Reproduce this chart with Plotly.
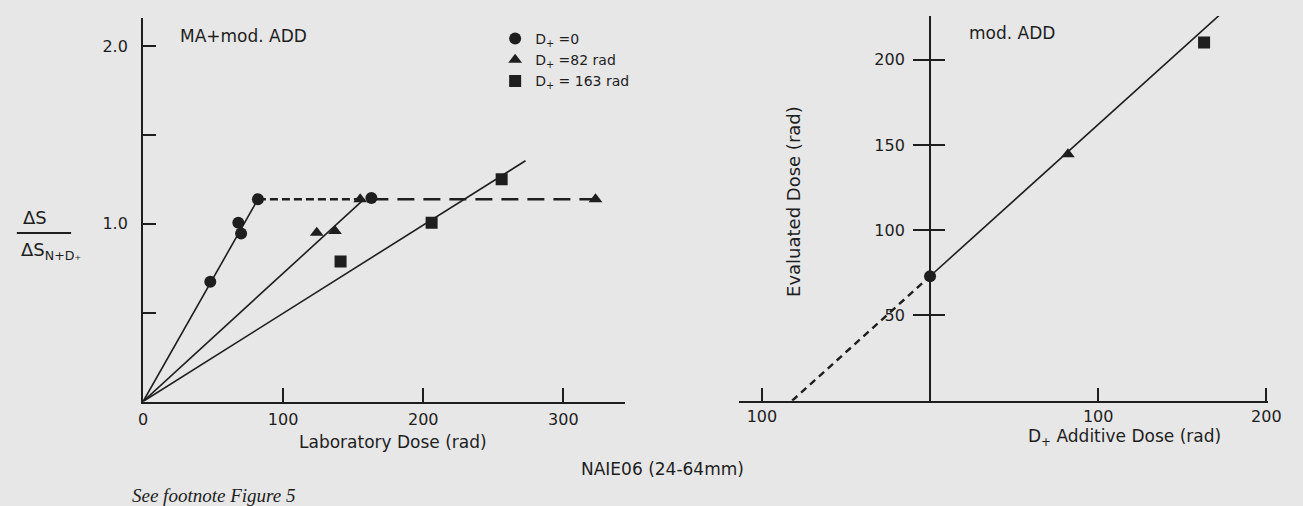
import plotly.graph_objects as go

# ---------------- data ----------------
# Left panel: normalised signal vs laboratory dose
circ_x = [48, 68, 70, 82, 163]
circ_y = [0.674, 1.006, 0.946, 1.138, 1.145]
tri_x = [124, 137, 155, 323]
tri_y = [0.950, 0.959, 1.138, 1.138]
sq_x = [141, 206, 256]
sq_y = [0.788, 1.006, 1.251]

fit_circ_x = [0, 82]
fit_circ_y = [0, 1.138]
fit_tri_x = [0, 158]
fit_tri_y = [0, 1.14]
fit_sq_x = [0, 273]
fit_sq_y = [0, 1.355]
sat_short_x = [82, 155]
sat_short_y = [1.138, 1.138]
sat_long_x = [163, 323]
sat_long_y = [1.138, 1.138]

left_xticks = [0, 100, 200, 300]
left_xticklabels = ["0", "100", "200", "300"]
left_yticks = [1.0, 2.0]
left_yticklabels = ["1.0", "2.0"]
left_yminor = [0.5, 1.5]

legend_names = ["D<sub>+</sub> =0", "D<sub>+</sub> =82 rad", "D<sub>+</sub> = 163 rad"]

# Right panel: evaluated dose vs additive dose
add_dose = [0, 82, 163]
eval_dose = [73, 144.5, 210]
fit_right_x = [0, 172]
fit_right_y = [73, 226]
extrap_x = [-82, 0]
extrap_y = [0, 73]

right_xticks = [-100, 100, 200]
right_xticklabels = ["100", "100", "200"]
right_yticks = [50, 100, 150, 200]
right_yticklabels = ["50", "100", "150", "200"]

# ---------------- figure ----------------
W, H = 1303, 506
INK = "#1e1e1e"
BG = "#e7e7e7"
FONT = "DejaVu Sans"


def px(x):
    return x / W


def py(y):
    return 1 - y / H


fig = go.Figure()

line_style = dict(color=INK, width=1.6)
for xs, ys in [(fit_circ_x, fit_circ_y), (fit_tri_x, fit_tri_y), (fit_sq_x, fit_sq_y)]:
    fig.add_trace(go.Scatter(x=xs, y=ys, mode="lines", line=line_style,
                             showlegend=False, hoverinfo="skip", xaxis="x", yaxis="y"))
fig.add_trace(go.Scatter(x=sat_short_x, y=sat_short_y, mode="lines",
                         line=dict(color=INK, width=2.6, dash="8px,4px"),
                         showlegend=False, xaxis="x", yaxis="y"))
fig.add_trace(go.Scatter(x=sat_long_x, y=sat_long_y, mode="lines",
                         line=dict(color=INK, width=2.6, dash="17px,9px"),
                         showlegend=False, xaxis="x", yaxis="y"))

mk = dict(color=INK, line=dict(width=0))
fig.add_trace(go.Scatter(x=circ_x, y=circ_y, mode="markers", name=legend_names[0],
                         marker=dict(symbol="circle", size=12, **mk), xaxis="x", yaxis="y"))
fig.add_trace(go.Scatter(x=tri_x, y=tri_y, mode="markers", name=legend_names[1],
                         marker=dict(symbol="triangle-up", size=12, **mk), xaxis="x", yaxis="y"))
fig.add_trace(go.Scatter(x=sq_x, y=sq_y, mode="markers", name=legend_names[2],
                         marker=dict(symbol="square", size=12, **mk), xaxis="x", yaxis="y"))

# right panel
fig.add_trace(go.Scatter(x=fit_right_x, y=fit_right_y, mode="lines", line=line_style,
                         showlegend=False, xaxis="x2", yaxis="y2"))
fig.add_trace(go.Scatter(x=extrap_x, y=extrap_y, mode="lines",
                         line=dict(color=INK, width=2.4, dash="7px,5px"),
                         showlegend=False, xaxis="x2", yaxis="y3"))
fig.add_trace(go.Scatter(x=add_dose[:1], y=eval_dose[:1], mode="markers", showlegend=False,
                         marker=dict(symbol="circle", size=12, **mk), xaxis="x2", yaxis="y2"))
fig.add_trace(go.Scatter(x=add_dose[1:2], y=eval_dose[1:2], mode="markers", showlegend=False,
                         marker=dict(symbol="triangle-up", size=12, **mk), xaxis="x2", yaxis="y2"))
fig.add_trace(go.Scatter(x=add_dose[2:], y=eval_dose[2:], mode="markers", showlegend=False,
                         marker=dict(symbol="square", size=12, **mk), xaxis="x2", yaxis="y2"))

tickfont = dict(family=FONT, size=16, color=INK)
axis_common = dict(showline=True, linecolor=INK, linewidth=2, showgrid=False,
                   zeroline=False, tickcolor=INK, tickwidth=1.6, tickfont=tickfont,
                   fixedrange=True)

fig.update_layout(
    width=W, height=H, autosize=False,
    margin=dict(l=0, r=0, t=0, b=0),
    paper_bgcolor=BG, plot_bgcolor="rgba(0,0,0,0)",
    font=dict(family=FONT, color=INK),
    showlegend=True,
    legend=dict(x=px(497), y=py(23), xanchor="left", yanchor="top",
                bgcolor="rgba(0,0,0,0)", font=dict(family=FONT, size=14, color=INK),
                itemwidth=30, tracegroupgap=0),
    xaxis=dict(domain=[px(140), px(628.6)], range=[0, 344], anchor="y",
               tickmode="array", tickvals=left_xticks, ticktext=left_xticklabels,
               ticks="inside", ticklen=14, ticklabelstandoff=2, **axis_common),
    yaxis=dict(domain=[1 - 401.5 / H, 1 - 18 / H], range=[0, 2.158], anchor="x",
               tickmode="array", tickvals=left_yticks, ticktext=left_yticklabels,
               ticks="inside", ticklen=13, ticklabelstandoff=10,
               minor=dict(tickmode="array", tickvals=left_yminor, ticks="inside",
                          ticklen=13, tickwidth=1.6, tickcolor=INK, showgrid=False),
               **axis_common),
    xaxis2=dict(domain=[px(744), px(1281)], range=[-113.8, 201.2], anchor="y2",
                tickmode="array", tickvals=right_xticks, ticktext=right_xticklabels,
                ticks="inside", ticklen=13, ticklabelstandoff=0, **axis_common),
    yaxis2=dict(domain=[1 - 400.7 / H, 1 - 16 / H], range=[0, 225.6], anchor="free",
                position=px(938), tickmode="array", tickvals=right_yticks,
                ticktext=right_yticklabels, ticks="outside", ticklen=16,
                ticklabelstandoff=5, **axis_common),
    yaxis3=dict(domain=[1 - 400.7 / H, 1 - 16 / H], range=[0, 225.6], anchor="free",
                overlaying="y2", position=px(938), tickmode="array", tickvals=right_yticks,
                ticks="inside", ticklen=14, tickcolor=INK, tickwidth=1.6,
                showticklabels=False, showline=False, showgrid=False, zeroline=False,
                fixedrange=True),
)


def note(text, x, y, size=17, xanchor="center", family=FONT, angle=0, italic=False):
    fig.add_annotation(text=text, x=px(x), y=py(y), xref="paper", yref="paper",
                       xanchor=xanchor, yanchor="middle", showarrow=False, textangle=angle,
                       font=dict(family=family, size=size, color=INK,
                                 style="italic" if italic else "normal"))


note("MA+mod. ADD", 175, 36, size=17, xanchor="left")
note("mod. ADD", 975, 33, size=17, xanchor="left")
note("Laboratory Dose (rad)", 393, 442, size=17)
note("D<sub>+</sub> Additive Dose (rad)", 1135, 437, size=17)
note("Evaluated Dose (rad)", 800, 201, size=18, angle=-90)
note("NAIE06 (24-64mm)", 667, 469, size=17)
note("See footnote Figure 5", 127, 495, size=19, xanchor="left",
     family="Liberation Serif", italic=True)
# y-axis title of left panel as a fraction
note("ΔS", 30, 218, size=18)
note("ΔS<sub>N+D₊</sub>", 14, 251, size=18, xanchor="left")
fig.add_shape(type="line", xref="paper", yref="paper", x0=px(12), x1=px(67),
              y0=py(233), y1=py(233), line=dict(color=INK, width=2))

fig.write_html(
    "out.html",
    config={"responsive": False, "displayModeBar": False},
    post_script="document.body.style.margin='0';document.body.style.padding='0';"
                "document.documentElement.style.overflow='hidden';",
)
